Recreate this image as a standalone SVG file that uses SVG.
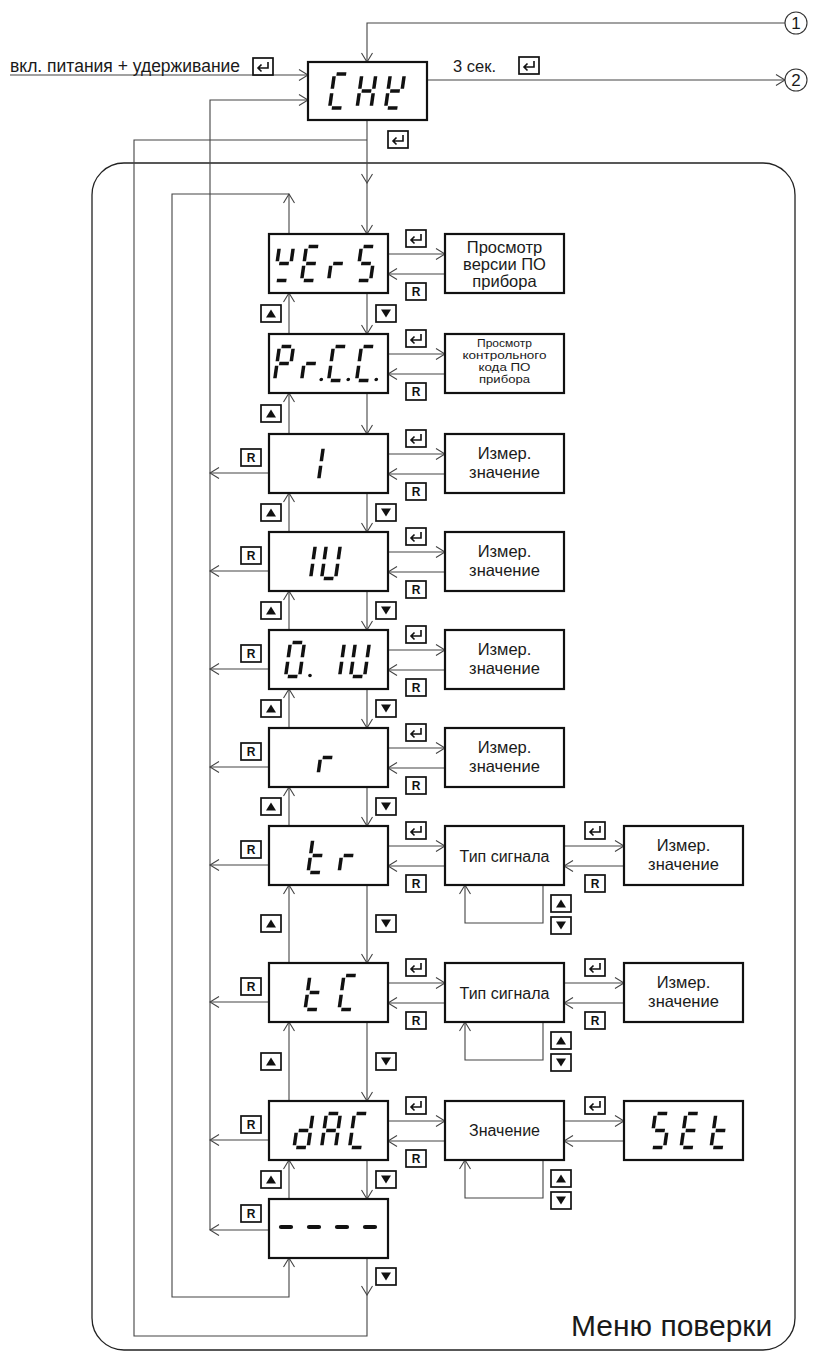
<svg xmlns="http://www.w3.org/2000/svg" xmlns:xlink="http://www.w3.org/1999/xlink" width="818" height="1357" viewBox="0 0 818 1357">
<defs>
<style>
.box{fill:#fff;stroke:#111;stroke-width:2.2}
.con{fill:none;stroke:#444;stroke-width:1.1}
.arr{marker-end:url(#ah)}
.seg{stroke:#111;stroke-width:3.5;stroke-linecap:butt;fill:#111}
.dash{stroke:#111;stroke-width:4.2;stroke-linecap:round}
.key{fill:#fff;stroke:#111;stroke-width:1.7}
.kr{font-family:"Liberation Sans",Arial,sans-serif;font-weight:bold;font-size:12px;fill:#111;text-anchor:middle}
.lbl{font-family:"Liberation Sans",Arial,sans-serif;fill:#1a1a1a;text-anchor:middle}
.txt{font-family:"Liberation Sans",Arial,sans-serif;fill:#1a1a1a}
.menu{fill:none;stroke:#222;stroke-width:1.3}
</style>
<marker id="ah" viewBox="-1 -6 11 12" refX="9" refY="0" markerWidth="11" markerHeight="12" markerUnits="userSpaceOnUse" orient="auto"><path d="M0,-5.5 L9,0 L0,5.5" fill="none" stroke="#444" stroke-width="1.1"/></marker>
<line id="sa" x1="-4.8" y1="-17" x2="4.8" y2="-17"/>
<line id="sb" x1="7" y1="-14.8" x2="7" y2="-2.2"/>
<line id="sc" x1="7" y1="2.2" x2="7" y2="14.8"/>
<line id="sd" x1="-4.8" y1="17" x2="4.8" y2="17"/>
<line id="se" x1="-7" y1="2.2" x2="-7" y2="14.8"/>
<line id="sf" x1="-7" y1="-14.8" x2="-7" y2="-2.2"/>
<line id="sg" x1="-4.8" y1="0" x2="4.8" y2="0"/>
<circle id="sdot" cx="12.5" cy="16" r="1.8" stroke="none"/>
<g id="kEnter"><rect x="0" y="0" width="20" height="17" fill="#fff" stroke="#111" stroke-width="1.7"/><path d="M15,4 V10 H5 M8.5,6.5 L5,10 L8.5,13.5" fill="none" stroke="#111" stroke-width="1.6"/></g>
<g id="kUp"><rect x="0" y="0" width="20" height="17" fill="#fff" stroke="#111" stroke-width="1.7"/><path d="M10,4.5 L15,12.5 H5 Z" fill="#111"/></g>
<g id="kDn"><rect x="0" y="0" width="20" height="17" fill="#fff" stroke="#111" stroke-width="1.7"/><path d="M5,4.5 H15 L10,12.5 Z" fill="#111"/></g>
</defs>
<rect width="818" height="1357" fill="#fff"/>

<g id="menu-frame">
<rect class="menu" x="92" y="163" width="703" height="1187" rx="32" ry="32"/>
<text class="txt" x="571" y="1336" font-size="30">Меню поверки</text>
</g>

<g id="connectors" class="con">
<path class="arr" d="M785,23 H367 V62"/>
<path class="arr" d="M10,75 H308"/>
<path class="arr" d="M210,1230 V100 H308"/>
<path class="arr" d="M427,80 H785"/>
<path class="arr" d="M367,120 V183"/>
<path class="arr" d="M367,183 V234"/>
<path class="arr" d="M367,1258 V1295"/>
<path d="M367,1295 V1336 H134 V140 H367"/>
<path class="arr" d="M289,234 V194"/>
<path class="arr" d="M289,194 H172 V1297 H289 V1258"/>
<path class="arr" d="M289,334 V293"/><path class="arr" d="M367,293 V334"/>
<path class="arr" d="M289,434 V393"/><path class="arr" d="M367,393 V434"/>
<path class="arr" d="M289,532 V493"/><path class="arr" d="M367,493 V532"/>
<path class="arr" d="M289,630 V591"/><path class="arr" d="M367,591 V630"/>
<path class="arr" d="M289,728 V689"/><path class="arr" d="M367,689 V728"/>
<path class="arr" d="M289,826 V787"/><path class="arr" d="M367,787 V826"/>
<path class="arr" d="M289,963 V885"/><path class="arr" d="M367,885 V963"/>
<path class="arr" d="M289,1101 V1022"/><path class="arr" d="M367,1022 V1101"/>
<path class="arr" d="M289,1199 V1160"/><path class="arr" d="M367,1160 V1199"/>
<path class="arr" d="M388,254 H445"/><path class="arr" d="M445,274 H388"/>
<path class="arr" d="M388,354 H445"/><path class="arr" d="M445,374 H388"/>
<path class="arr" d="M388,454 H445"/><path class="arr" d="M445,474 H388"/>
<path class="arr" d="M388,552 H445"/><path class="arr" d="M445,572 H388"/>
<path class="arr" d="M388,650 H445"/><path class="arr" d="M445,670 H388"/>
<path class="arr" d="M388,748 H445"/><path class="arr" d="M445,768 H388"/>
<path class="arr" d="M388,846 H445"/><path class="arr" d="M445,866 H388"/>
<path class="arr" d="M388,983 H445"/><path class="arr" d="M445,1003 H388"/>
<path class="arr" d="M388,1121 H445"/><path class="arr" d="M445,1141 H388"/>
<path class="arr" d="M269,473 H210"/>
<path class="arr" d="M269,571 H210"/>
<path class="arr" d="M269,669 H210"/>
<path class="arr" d="M269,767 H210"/>
<path class="arr" d="M269,865 H210"/>
<path class="arr" d="M269,1002 H210"/>
<path class="arr" d="M269,1140 H210"/>
<path class="arr" d="M269,1230 H210"/>
<path class="arr" d="M564,846 H624"/><path class="arr" d="M624,866 H564"/>
<path class="arr" d="M564,983 H624"/><path class="arr" d="M624,1003 H564"/>
<path class="arr" d="M564,1121 H624"/><path class="arr" d="M624,1141 H564"/>
<path class="arr" d="M543,885 V923 H465 V885"/>
<path class="arr" d="M543,1022 V1060 H465 V1022"/>
<path class="arr" d="M543,1160 V1198 H465 V1160"/>
</g>

<g id="keys">
<use href="#kEnter" x="253" y="58"/>
<use href="#kEnter" x="519" y="57"/>
<use href="#kEnter" x="388" y="131"/>
<use href="#kEnter" x="406" y="230"/>
<use href="#kEnter" x="406" y="330"/>
<use href="#kEnter" x="406" y="430"/>
<use href="#kEnter" x="406" y="528"/>
<use href="#kEnter" x="406" y="626"/>
<use href="#kEnter" x="406" y="724"/>
<use href="#kEnter" x="406" y="822"/>
<use href="#kEnter" x="406" y="959"/>
<use href="#kEnter" x="406" y="1097"/>
<use href="#kEnter" x="585" y="822"/>
<use href="#kEnter" x="585" y="959"/>
<use href="#kEnter" x="585" y="1097"/>
<use href="#kUp" x="261" y="305"/>
<use href="#kUp" x="261" y="405"/>
<use href="#kUp" x="261" y="504"/>
<use href="#kUp" x="261" y="602"/>
<use href="#kUp" x="261" y="700"/>
<use href="#kUp" x="261" y="798"/>
<use href="#kUp" x="261" y="915"/>
<use href="#kUp" x="261" y="1053"/>
<use href="#kUp" x="261" y="1171"/>
<use href="#kDn" x="376" y="305"/>
<use href="#kDn" x="376" y="504"/>
<use href="#kDn" x="376" y="602"/>
<use href="#kDn" x="376" y="700"/>
<use href="#kDn" x="376" y="798"/>
<use href="#kDn" x="376" y="915"/>
<use href="#kDn" x="376" y="1053"/>
<use href="#kDn" x="376" y="1171"/>
<use href="#kDn" x="376" y="1268"/>
<use href="#kUp" x="551" y="895"/><use href="#kDn" x="551" y="917"/>
<use href="#kUp" x="551" y="1032"/><use href="#kDn" x="551" y="1054"/>
<use href="#kUp" x="551" y="1170"/><use href="#kDn" x="551" y="1192"/>
<g id="r-keys">
<rect class="key" x="406" y="283" width="20" height="17"/><text class="kr" x="416" y="296">R</text>
<rect class="key" x="406" y="383" width="20" height="17"/><text class="kr" x="416" y="396">R</text>
<rect class="key" x="406" y="483" width="20" height="17"/><text class="kr" x="416" y="496">R</text>
<rect class="key" x="406" y="581" width="20" height="17"/><text class="kr" x="416" y="594">R</text>
<rect class="key" x="406" y="679" width="20" height="17"/><text class="kr" x="416" y="692">R</text>
<rect class="key" x="406" y="777" width="20" height="17"/><text class="kr" x="416" y="790">R</text>
<rect class="key" x="406" y="875" width="20" height="17"/><text class="kr" x="416" y="888">R</text>
<rect class="key" x="406" y="1012" width="20" height="17"/><text class="kr" x="416" y="1025">R</text>
<rect class="key" x="406" y="1150" width="20" height="17"/><text class="kr" x="416" y="1163">R</text>
<rect class="key" x="585" y="875" width="20" height="17"/><text class="kr" x="595" y="888">R</text>
<rect class="key" x="585" y="1012" width="20" height="17"/><text class="kr" x="595" y="1025">R</text>
<rect class="key" x="241" y="449" width="20" height="17"/><text class="kr" x="251" y="462">R</text>
<rect class="key" x="241" y="547" width="20" height="17"/><text class="kr" x="251" y="560">R</text>
<rect class="key" x="241" y="645" width="20" height="17"/><text class="kr" x="251" y="658">R</text>
<rect class="key" x="241" y="743" width="20" height="17"/><text class="kr" x="251" y="756">R</text>
<rect class="key" x="241" y="841" width="20" height="17"/><text class="kr" x="251" y="854">R</text>
<rect class="key" x="241" y="978" width="20" height="17"/><text class="kr" x="251" y="991">R</text>
<rect class="key" x="241" y="1116" width="20" height="17"/><text class="kr" x="251" y="1129">R</text>
<rect class="key" x="241" y="1205" width="20" height="17"/><text class="kr" x="251" y="1218">R</text>
</g>
</g>

<g id="top-labels">
<text class="txt" x="10" y="72" font-size="17.5">вкл. питания + удерживание</text>
<text class="txt" x="453" y="72" font-size="16.5">3 сек.</text>
</g>

<g id="circle-1"><circle cx="796" cy="23" r="11" fill="#fff" stroke="#333" stroke-width="1.1"/><text class="lbl" x="796" y="29" font-size="17">1</text></g>
<g id="circle-2"><circle cx="796" cy="80" r="11" fill="#fff" stroke="#333" stroke-width="1.1"/><text class="lbl" x="796" y="86" font-size="17">2</text></g>

<g id="node-CHK">
<rect class="box" x="308" y="62" width="119" height="58"/>
<g class="seg">
<g transform="translate(339,91) skewX(-8)"><use href="#sa"/><use href="#sd"/><use href="#se"/><use href="#sf"/></g>
<g transform="translate(366.5,91) skewX(-8)"><use href="#sb"/><use href="#sc"/><use href="#se"/><use href="#sf"/><use href="#sg"/></g>
<g transform="translate(395,91) skewX(-8)"><use href="#sb"/><use href="#sd"/><use href="#se"/><use href="#sf"/><use href="#sg"/></g>
</g>
</g>

<g id="node-vErS">
<rect class="box" x="269" y="234" width="119" height="59"/>
<g class="seg">
<g transform="translate(284,263.5) skewX(-8)"><use href="#sb"/><use href="#sd"/><use href="#sf"/><use href="#sg"/></g>
<g transform="translate(311,263.5) skewX(-8)"><use href="#sa"/><use href="#sd"/><use href="#se"/><use href="#sf"/><use href="#sg"/></g>
<g transform="translate(338,263.5) skewX(-8)"><use href="#se"/><use href="#sg"/></g>
<g transform="translate(366,263.5) skewX(-8)"><use href="#sa"/><use href="#sc"/><use href="#sd"/><use href="#sf"/><use href="#sg"/></g>
</g>
</g>
<g id="node-vers-view">
<rect class="box" x="445" y="234" width="119" height="59"/>
<text class="lbl" x="504.5" y="253" font-size="16.5">Просмотр</text>
<text class="lbl" x="504.5" y="270" font-size="16.5">версии ПО</text>
<text class="lbl" x="504.5" y="287" font-size="16.5">прибора</text>
</g>

<g id="node-PrCC">
<rect class="box" x="269" y="334" width="119" height="59"/>
<g class="seg">
<g transform="translate(284,363.5) skewX(-8)"><use href="#sa"/><use href="#sb"/><use href="#se"/><use href="#sf"/><use href="#sg"/></g>
<g transform="translate(311,363.5) skewX(-8)"><use href="#se"/><use href="#sg"/><use href="#sdot"/></g>
<g transform="translate(338,363.5) skewX(-8)"><use href="#sa"/><use href="#sd"/><use href="#se"/><use href="#sf"/><use href="#sdot"/></g>
<g transform="translate(366,363.5) skewX(-8)"><use href="#sa"/><use href="#sd"/><use href="#se"/><use href="#sf"/><use href="#sdot"/></g>
</g>
</g>
<g id="node-cc-view">
<rect class="box" x="445" y="334" width="119" height="59"/>
<text class="lbl" x="504.5" y="347" font-size="11" textLength="55" lengthAdjust="spacingAndGlyphs">Просмотр</text>
<text class="lbl" x="504.5" y="359" font-size="11" textLength="84" lengthAdjust="spacingAndGlyphs">контрольного</text>
<text class="lbl" x="504.5" y="371" font-size="11" textLength="52" lengthAdjust="spacingAndGlyphs">кода ПО</text>
<text class="lbl" x="504.5" y="383" font-size="11" textLength="51" lengthAdjust="spacingAndGlyphs">прибора</text>
</g>

<g id="node-1">
<rect class="box" x="269" y="434" width="119" height="59"/>
<g class="seg"><g transform="translate(314,463.5) skewX(-8)"><use href="#sb"/><use href="#sc"/></g></g>
</g>
<g id="node-1-val"><rect class="box" x="445" y="434" width="119" height="59"/><text class="lbl" x="504.5" y="459" font-size="16.5">Измер.</text><text class="lbl" x="504.5" y="478" font-size="16.5">значение</text></g>

<g id="node-1U">
<rect class="box" x="269" y="532" width="119" height="59"/>
<g class="seg">
<g transform="translate(306,561.5) skewX(-8)"><use href="#sb"/><use href="#sc"/></g>
<g transform="translate(331,561.5) skewX(-8)"><use href="#sb"/><use href="#sc"/><use href="#sd"/><use href="#se"/><use href="#sf"/></g>
</g>
</g>
<g id="node-1U-val"><rect class="box" x="445" y="532" width="119" height="59"/><text class="lbl" x="504.5" y="557" font-size="16.5">Измер.</text><text class="lbl" x="504.5" y="576" font-size="16.5">значение</text></g>

<g id="node-01U">
<rect class="box" x="269" y="630" width="119" height="59"/>
<g class="seg">
<g transform="translate(295,659.5) skewX(-8)"><use href="#sa"/><use href="#sb"/><use href="#sc"/><use href="#sd"/><use href="#se"/><use href="#sf"/></g>
<circle cx="310" cy="675.5" r="1.8" stroke="none"/>
<g transform="translate(335,659.5) skewX(-8)"><use href="#sb"/><use href="#sc"/></g>
<g transform="translate(360,659.5) skewX(-8)"><use href="#sb"/><use href="#sc"/><use href="#sd"/><use href="#se"/><use href="#sf"/></g>
</g>
</g>
<g id="node-01U-val"><rect class="box" x="445" y="630" width="119" height="59"/><text class="lbl" x="504.5" y="655" font-size="16.5">Измер.</text><text class="lbl" x="504.5" y="674" font-size="16.5">значение</text></g>

<g id="node-r">
<rect class="box" x="269" y="728" width="119" height="59"/>
<g class="seg"><g transform="translate(327.5,757.5) skewX(-8)"><use href="#se"/><use href="#sg"/></g></g>
</g>
<g id="node-r-val"><rect class="box" x="445" y="728" width="119" height="59"/><text class="lbl" x="504.5" y="753" font-size="16.5">Измер.</text><text class="lbl" x="504.5" y="772" font-size="16.5">значение</text></g>

<g id="node-tr">
<rect class="box" x="269" y="826" width="119" height="59"/>
<g class="seg">
<g transform="translate(317.5,855.5) skewX(-8)"><use href="#sd"/><use href="#se"/><use href="#sf"/><use href="#sg"/></g>
<g transform="translate(348.5,855.5) skewX(-8)"><use href="#se"/><use href="#sg"/></g>
</g>
</g>
<g id="node-tr-type"><rect class="box" x="445" y="826" width="119" height="59"/><text class="lbl" x="504.5" y="861.5" font-size="16">Тип сигнала</text></g>
<g id="node-tr-val"><rect class="box" x="624" y="826" width="119" height="59"/><text class="lbl" x="683.5" y="851" font-size="16.5">Измер.</text><text class="lbl" x="683.5" y="870" font-size="16.5">значение</text></g>

<g id="node-tC">
<rect class="box" x="269" y="963" width="119" height="59"/>
<g class="seg">
<g transform="translate(314.5,992.5) skewX(-8)"><use href="#sd"/><use href="#se"/><use href="#sf"/><use href="#sg"/></g>
<g transform="translate(348.5,992.5) skewX(-8)"><use href="#sa"/><use href="#sd"/><use href="#se"/><use href="#sf"/></g>
</g>
</g>
<g id="node-tC-type"><rect class="box" x="445" y="963" width="119" height="59"/><text class="lbl" x="504.5" y="998.5" font-size="16">Тип сигнала</text></g>
<g id="node-tC-val"><rect class="box" x="624" y="963" width="119" height="59"/><text class="lbl" x="683.5" y="988" font-size="16.5">Измер.</text><text class="lbl" x="683.5" y="1007" font-size="16.5">значение</text></g>

<g id="node-dAC">
<rect class="box" x="269" y="1101" width="119" height="59"/>
<g class="seg">
<g transform="translate(303.5,1130.5) skewX(-8)"><use href="#sb"/><use href="#sc"/><use href="#sd"/><use href="#se"/><use href="#sg"/></g>
<g transform="translate(331,1130.5) skewX(-8)"><use href="#sa"/><use href="#sb"/><use href="#sc"/><use href="#se"/><use href="#sf"/><use href="#sg"/></g>
<g transform="translate(359,1130.5) skewX(-8)"><use href="#sa"/><use href="#sd"/><use href="#se"/><use href="#sf"/></g>
</g>
</g>
<g id="node-dAC-value"><rect class="box" x="445" y="1101" width="119" height="59"/><text class="lbl" x="504.5" y="1136" font-size="16">Значение</text></g>
<g id="node-SEt">
<rect class="box" x="624" y="1101" width="119" height="59"/>
<g class="seg">
<g transform="translate(660,1130.5) skewX(-8)"><use href="#sa"/><use href="#sc"/><use href="#sd"/><use href="#sf"/><use href="#sg"/></g>
<g transform="translate(690.5,1130.5) skewX(-8)"><use href="#sa"/><use href="#sd"/><use href="#se"/><use href="#sf"/><use href="#sg"/></g>
<g transform="translate(720.5,1130.5) skewX(-8)"><use href="#sd"/><use href="#se"/><use href="#sf"/><use href="#sg"/></g>
</g>
</g>

<g id="node-dash">
<rect class="box" x="269" y="1199" width="119" height="59"/>
<g class="dash">
<line x1="281" y1="1227" x2="291" y2="1227"/>
<line x1="309" y1="1227" x2="319" y2="1227"/>
<line x1="337" y1="1227" x2="347" y2="1227"/>
<line x1="365" y1="1227" x2="375" y2="1227"/>
</g>
</g>
</svg>
